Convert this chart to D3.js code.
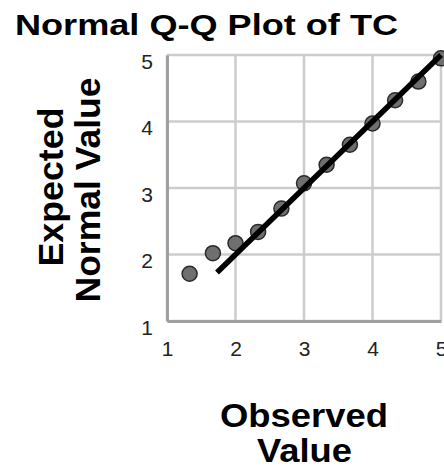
<!DOCTYPE html>
<html>
<head>
<meta charset="utf-8">
<script src="https://cdn.jsdelivr.net/npm/d3@7"></script>
<style>
	body { margin: 0; background: #fff; }
	text { font-family: "Liberation Sans", Arial, sans-serif; }
</style>
</head>
<body>
<div id="chart-area"></div>
<script>

// SVG Size
var width = 444,
		height = 470;

var margin = {top: 55, right: 3, bottom: 149, left: 167};

// Data
var observed = [1.33, 1.67, 2.00, 2.33, 2.67, 3.00, 3.33, 3.67, 4.00, 4.33, 4.67, 5.00];
var expected = [1.71, 2.02, 2.17, 2.34, 2.69, 3.07, 3.35, 3.65, 3.97, 4.32, 4.60, 4.95];
var lineEnds = [1.73, 5];
var ticks = [1, 2, 3, 4, 5];

var svg = d3.select("#chart-area").append("svg")
	.attr("width", width)
	.attr("height", height);

var x = d3.scaleLinear()
	.domain([1, 5])
	.range([margin.left, width - margin.right]);

var y = d3.scaleLinear()
	.domain([1, 5])
	.range([height - margin.bottom, margin.top]);

// grid lines
svg.append("g")
	.selectAll("line.vgrid")
	.data(ticks)
	.enter()
	.append("line")
	.attr("x1", function(d) { return x(d); })
	.attr("x2", function(d) { return x(d); })
	.attr("y1", y(1))
	.attr("y2", y(5))
	.attr("stroke", "#cccccc")
	.attr("stroke-width", 2.5);

svg.append("g")
	.selectAll("line.hgrid")
	.data(ticks)
	.enter()
	.append("line")
	.attr("x1", x(1))
	.attr("x2", x(5))
	.attr("y1", function(d) { return y(d); })
	.attr("y2", function(d) { return y(d); })
	.attr("stroke", "#cccccc")
	.attr("stroke-width", 2.5);

// axes
var xAxis = d3.axisBottom(x).tickValues(ticks).tickFormat(d3.format("d")).tickSize(0).tickPadding(20);
var yAxis = d3.axisLeft(y).tickValues(ticks).tickFormat(d3.format("d")).tickSize(0).tickPadding(14);

var gx = svg.append("g")
	.attr("transform", "translate(0," + y(1) + ")")
	.call(xAxis);

var gy = svg.append("g")
	.attr("transform", "translate(" + x(1) + ",0)")
	.call(yAxis);

[gx, gy].forEach(function(g) {
	g.select(".domain").attr("stroke", "#a0a0a0").attr("stroke-width", 3);
	g.selectAll("text")
		.attr("font-size", 21)
		.attr("fill", "#222")
		.style("font-family", "'Liberation Sans', Arial, sans-serif");
});
gy.selectAll("text").attr("dy", "0.62em");

// points
svg.append("g")
	.selectAll("circle")
	.data(observed)
	.enter()
	.append("circle")
	.attr("cx", function(d) { return x(d); })
	.attr("cy", function(d, i) { return y(expected[i]); })
	.attr("r", 7.5)
	.attr("fill", "#6f6f6f")
	.attr("stroke", "#2a2a2a")
	.attr("stroke-width", 1.5);

// reference line
svg.append("line")
	.attr("x1", x(lineEnds[0]))
	.attr("y1", y(lineEnds[0]))
	.attr("x2", x(lineEnds[1]))
	.attr("y2", y(lineEnds[1]))
	.attr("stroke", "#000")
	.attr("stroke-width", 5.5);

// title
svg.append("text")
	.attr("x", 15)
	.attr("y", 35)
	.attr("font-size", 29)
	.attr("font-weight", "bold")
	.attr("textLength", 383)
	.attr("lengthAdjust", "spacingAndGlyphs")
	.text("Normal Q-Q Plot of TC");

// y axis label
svg.append("text")
	.attr("transform", "translate(63,187) rotate(-90)")
	.attr("text-anchor", "middle")
	.attr("font-size", 35)
	.attr("font-weight", "bold")
	.attr("textLength", 159)
	.attr("lengthAdjust", "spacingAndGlyphs")
	.text("Expected");

svg.append("text")
	.attr("transform", "translate(100,190) rotate(-90)")
	.attr("text-anchor", "middle")
	.attr("font-size", 35)
	.attr("font-weight", "bold")
	.attr("textLength", 225)
	.attr("lengthAdjust", "spacingAndGlyphs")
	.text("Normal Value");

// x axis label
svg.append("text")
	.attr("x", 304)
	.attr("y", 427)
	.attr("text-anchor", "middle")
	.attr("font-size", 33)
	.attr("font-weight", "bold")
	.attr("textLength", 168)
	.attr("lengthAdjust", "spacingAndGlyphs")
	.text("Observed");

svg.append("text")
	.attr("x", 304.5)
	.attr("y", 462)
	.attr("text-anchor", "middle")
	.attr("font-size", 33)
	.attr("font-weight", "bold")
	.attr("textLength", 95)
	.attr("lengthAdjust", "spacingAndGlyphs")
	.text("Value");

</script>
</body>
</html>
